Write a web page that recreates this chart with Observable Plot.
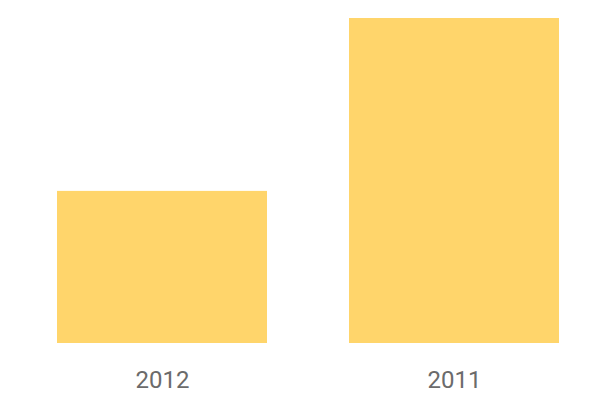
<!DOCTYPE html>
<html>
<head>
<meta charset="utf-8">
<script src="https://cdn.jsdelivr.net/npm/d3@7"></script>
<script src="https://cdn.jsdelivr.net/npm/@observablehq/plot@0.6"></script>
<style>
  body { margin: 0; background: #fff; }
</style>
</head>
<body>
<div id="chart"></div>
<script>
const years = ["2012", "2011"];
const values = [46.8, 100];

const data = years.map((y, i) => ({year: y, value: values[i]}));

const chart = Plot.plot({
  width: 600,
  height: 400,
  marginLeft: 16,
  marginRight: 0,
  marginTop: 18,
  marginBottom: 57,
  style: {fontFamily: "Roboto", background: "#fff"},
  x: {domain: years, paddingInner: 0.28, paddingOuter: 0.14, label: null},
  y: {domain: [0, 100], axis: null},
  marks: [
    Plot.barY(data, {x: "year", y: "value", fill: "#FFD56B"}),
    Plot.axisX({tickSize: 0, tickPadding: 27, fontSize: 24, fill: "#6b6b6b", label: null})
  ]
});
document.getElementById("chart").appendChild(chart);
</script>
</body>
</html>
